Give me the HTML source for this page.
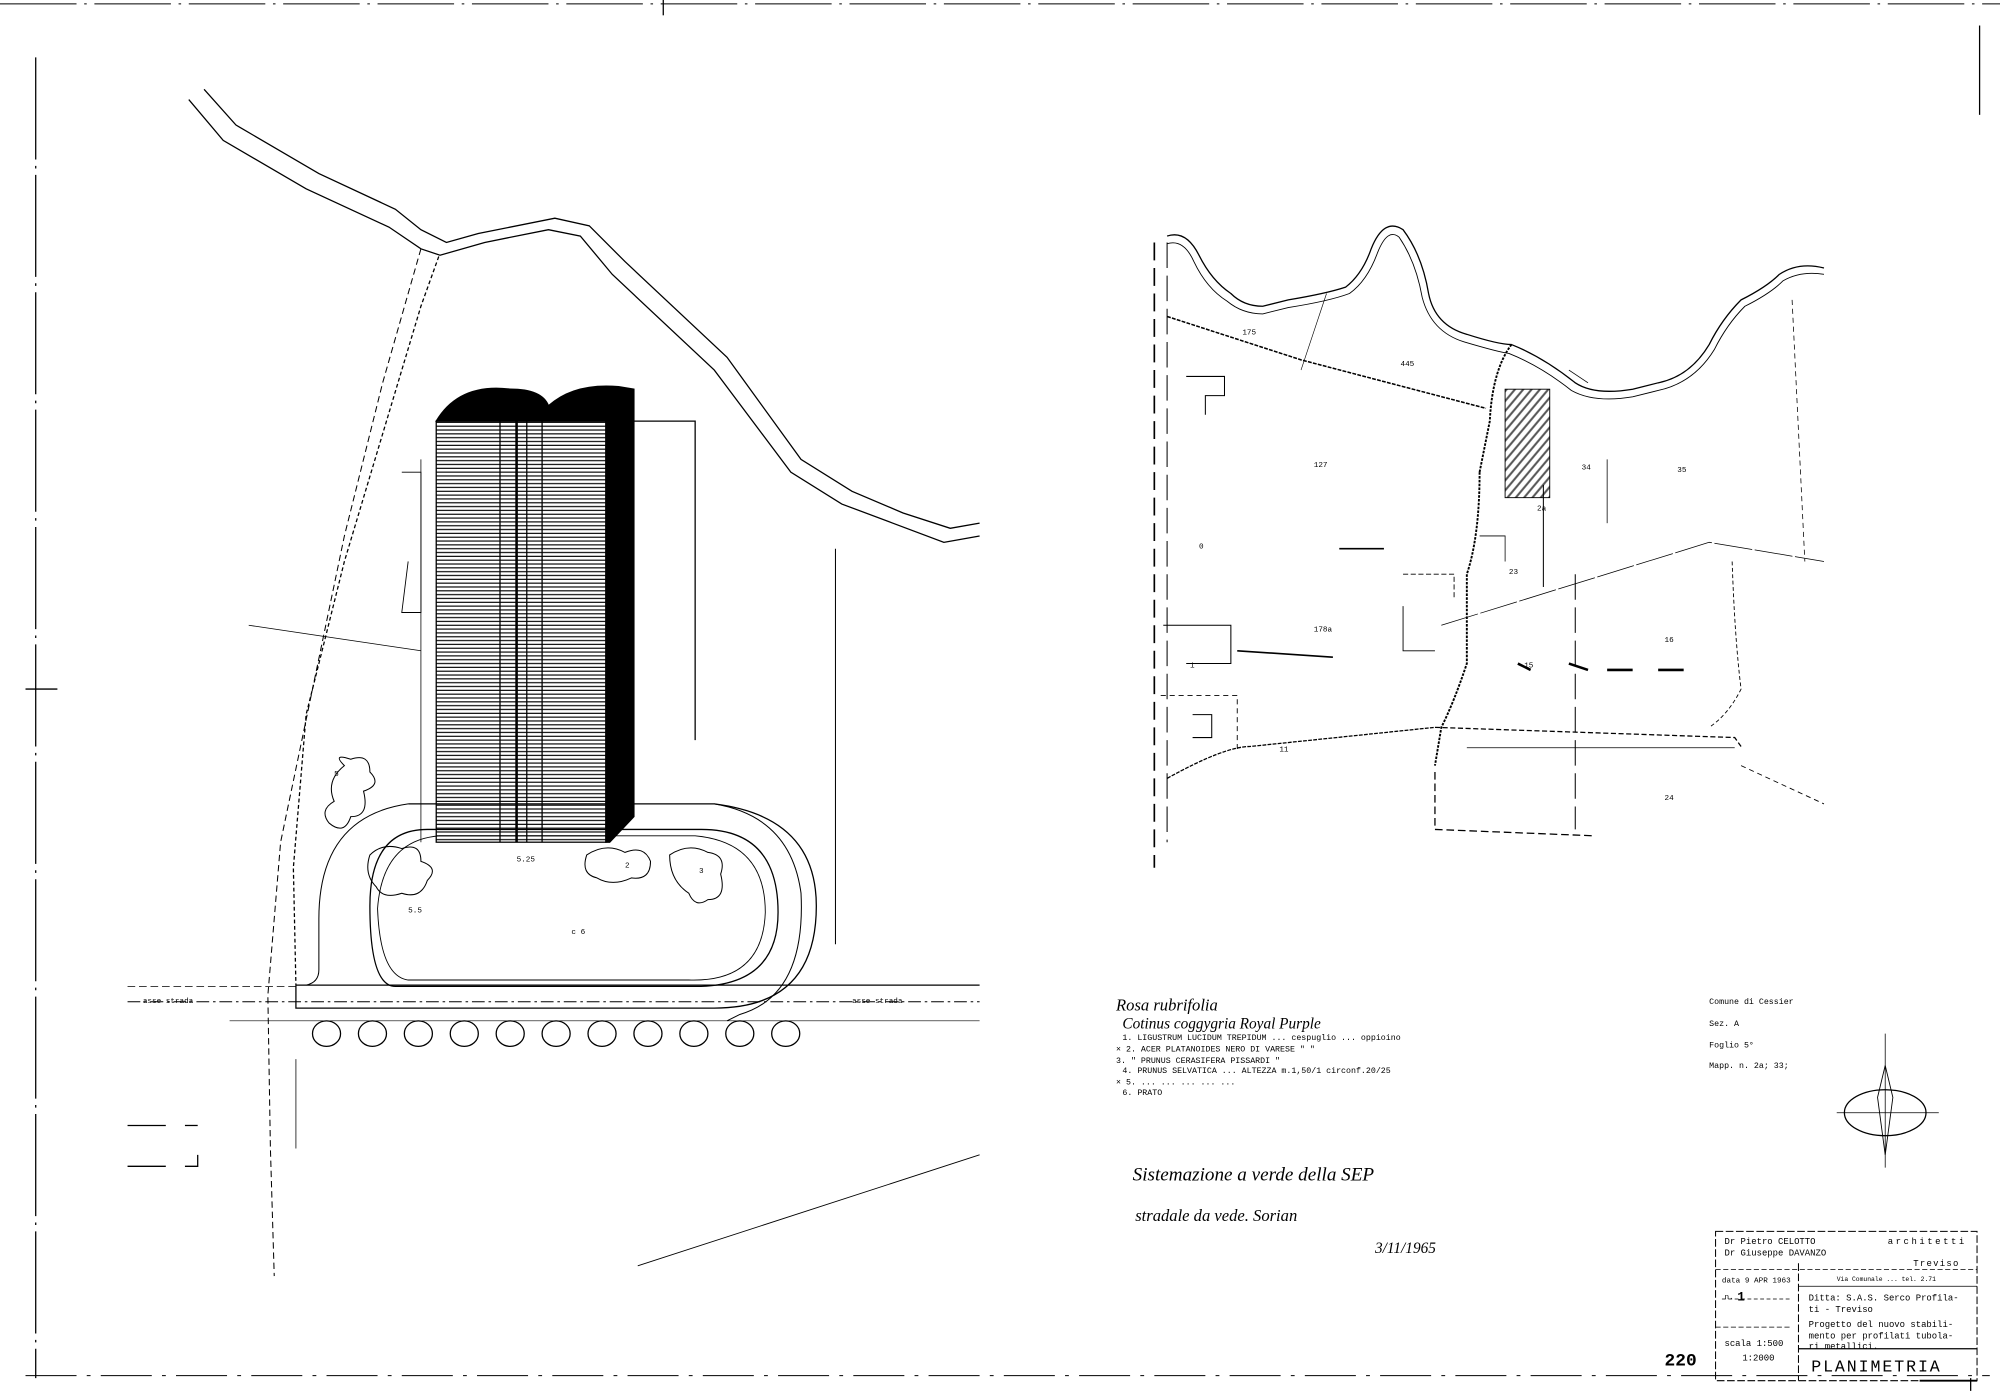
<!DOCTYPE html>
<html><head><meta charset="utf-8"><style>
html,body{margin:0;padding:0;background:#fff;}
svg{display:block;}
text{font-family:"Liberation Mono",monospace;fill:#000;}
.h{font-family:"Liberation Serif",serif;font-style:italic;}
</style></head><body>
<svg width="2000" height="1396" viewBox="0 0 1568 1094" preserveAspectRatio="none" xmlns="http://www.w3.org/2000/svg">
<defs>
<pattern id="hl" width="4" height="3" patternUnits="userSpaceOnUse"><rect width="4" height="3" fill="#fff"/><line x1="0" y1="1" x2="4" y2="1" stroke="#000" stroke-width="0.9"/></pattern>
<pattern id="dg" width="5" height="5" patternUnits="userSpaceOnUse" patternTransform="rotate(-50)"><rect width="5" height="5" fill="#fff"/><line x1="0" y1="1" x2="5" y2="1" stroke="#555" stroke-width="1.6"/></pattern>
</defs>
<g fill="none" stroke="#000" stroke-width="1">
<!-- frame -->
<line x1="0" y1="3" x2="1568" y2="3" stroke-dasharray="60 6 2 6" stroke-width="0.8"/>
<line x1="28" y1="45" x2="28" y2="1080" stroke-dasharray="80 5 2 5"/>
<line x1="20" y1="1078" x2="1560" y2="1078" stroke-dasharray="40 8 3 8" stroke-width="0.8"/>
<line x1="1552" y1="20" x2="1552" y2="90"/>
<line x1="520" y1="0" x2="520" y2="12"/>
<line x1="20" y1="540" x2="45" y2="540"/>
<!-- road (left) -->
<path d="M148 78 L175 110 L240 148 L305 178 L330 195 L345 200 L380 190 L430 180 L455 185 L480 215 L560 290 L620 370 L660 395 L700 410 L740 425 L768 420"/>
<path d="M160 70 L185 98 L250 136 L310 164 L330 180 L350 190 L375 183 L435 171 L462 177 L490 205 L570 280 L628 360 L668 385 L708 402 L745 414 L768 410"/>
<path d="M344 201 L330 240 L300 340 L270 440 L240 560 L230 680 L232 772" stroke-dasharray="3 2"/>
<path d="M330 195 L300 300 L270 420 L245 540 L220 660 L210 780 L212 900 L215 1000" stroke-dasharray="5 3" stroke-width="0.8"/>
<line x1="195" y1="490" x2="330" y2="510" stroke-width="0.6"/>
<!-- site outline -->
<path d="M342 330 L545 330 L545 580"/>
<path d="M655 430 L655 740" stroke-width="0.8"/>
<path d="M315 370 L330 370 L330 480 L315 480 L320 440" stroke-width="0.7"/>
<line x1="330" y1="360" x2="330" y2="660" stroke-width="0.6"/>
<!-- building -->
<rect x="342" y="330" width="133" height="330" fill="url(#hl)" stroke="#000"/>
<path d="M342 330 Q360 300 400 305 Q425 305 430 318 Q450 300 485 303 L497 305 L497 640 L478 660 L475 660 L475 330 Z" fill="#000"/>
<line x1="405" y1="330" x2="405" y2="660" stroke-width="2"/>
<line x1="413" y1="330" x2="413" y2="660"/>
<line x1="392" y1="330" x2="392" y2="660"/>
<line x1="425" y1="330" x2="425" y2="660"/>
<!-- track -->
<path d="M320 630 L560 630 Q640 640 640 710 Q640 790 560 790 L232 790 L232 772" />
<path d="M335 650 L550 650 Q610 650 610 715 Q610 773 545 773 L310 773 Q290 773 290 710 Q290 650 335 650 Z"/>
<path d="M345 655 L545 655 Q600 660 600 715 Q598 770 540 768 L320 768 Q298 765 296 712 Q300 658 345 655 Z" stroke-width="0.7"/>
<path d="M320 630 Q250 640 250 720 L250 760 Q250 770 240 772" stroke-width="0.8"/>
<path d="M560 630 Q620 640 628 700 Q632 780 580 795 L570 800" stroke-width="0.8"/>
<!-- shrubs -->
<path d="M270 600 Q260 590 275 595 Q290 590 290 605 Q300 615 285 620 Q290 640 275 640 Q270 655 258 645 Q250 635 262 628 Q255 612 270 600Z" stroke-width="0.8"/>
<path d="M290 670 Q300 660 315 665 Q330 660 330 675 Q345 680 335 690 Q330 705 315 700 Q300 705 295 695 Q285 685 290 670Z" stroke-width="0.8"/>
<path d="M460 670 Q475 660 490 668 Q505 662 510 675 Q510 690 495 688 Q480 695 468 688 Q455 685 460 670Z" stroke-width="0.8"/>
<path d="M525 670 Q540 660 555 668 Q570 670 565 685 Q570 705 555 705 Q545 712 540 700 Q525 690 525 670Z" stroke-width="0.8"/>
<!-- road axis -->
<line x1="100" y1="773" x2="232" y2="773" stroke-width="0.6" stroke-dasharray="6 3"/>
<line x1="232" y1="772" x2="768" y2="772"/>
<line x1="100" y1="785" x2="768" y2="785" stroke-dasharray="10 3 2 3" stroke-width="0.8"/>
<line x1="180" y1="800" x2="768" y2="800" stroke-width="0.5"/>
<g stroke-width="1">
<ellipse cx="256" cy="810" rx="11" ry="10"/><ellipse cx="292" cy="810" rx="11" ry="10"/><ellipse cx="328" cy="810" rx="11" ry="10"/><ellipse cx="364" cy="810" rx="11" ry="10"/><ellipse cx="400" cy="810" rx="11" ry="10"/><ellipse cx="436" cy="810" rx="11" ry="10"/><ellipse cx="472" cy="810" rx="11" ry="10"/><ellipse cx="508" cy="810" rx="11" ry="10"/><ellipse cx="544" cy="810" rx="11" ry="10"/><ellipse cx="580" cy="810" rx="11" ry="10"/><ellipse cx="616" cy="810" rx="11" ry="10"/>
</g>
<line x1="232" y1="830" x2="232" y2="900" stroke-width="0.6"/>
<line x1="100" y1="882" x2="130" y2="882"/><line x1="145" y1="882" x2="155" y2="882"/>
<line x1="100" y1="914" x2="130" y2="914"/><path d="M145 914 L155 914 L155 905"/>
<line x1="500" y1="992" x2="768" y2="905" stroke-width="0.7"/>
<!-- right map -->
<line x1="905" y1="190" x2="905" y2="680" stroke-dasharray="14 6" stroke-width="1.3"/>
<line x1="915" y1="190" x2="915" y2="660" stroke-dasharray="20 6" stroke-width="0.8"/>
<path d="M915 185 Q930 180 940 200 Q950 220 965 230 Q975 240 990 240 L1010 235 Q1040 230 1055 225 Q1068 215 1075 195 Q1085 170 1100 180 Q1115 200 1120 230 Q1125 255 1150 262 Q1175 270 1185 270 Q1210 280 1235 300 Q1250 310 1280 305 L1300 300 Q1325 295 1340 270 Q1350 250 1365 235 Q1385 225 1395 215 Q1410 205 1430 210"/>
<path d="M915 191 Q928 187 936 205 Q946 226 962 236 Q974 246 990 246 L1010 241 Q1042 236 1058 230 Q1072 220 1080 198 Q1088 178 1097 186 Q1110 205 1115 233 Q1122 260 1148 268 Q1175 276 1183 277 Q1208 287 1232 306 Q1250 316 1280 311 L1300 306 Q1328 300 1344 274 Q1354 254 1368 240 Q1388 230 1398 220 Q1412 212 1430 215" stroke-width="0.7"/>
<path d="M915 248 L1020 282 L1165 320" stroke-dasharray="3 1" stroke-width="1.2"/>
<path d="M1040 230 L1020 290" stroke-width="0.5"/>
<path d="M1185 270 Q1170 290 1168 330 L1160 370" stroke-dasharray="2 1" stroke-width="1.5"/>
<path d="M1160 370 Q1160 420 1150 450 L1150 520 Q1140 550 1130 570 L1125 600" stroke-dasharray="2 1" stroke-width="1.5"/>
<path d="M1230 290 L1245 300" stroke-width="0.6"/>
<rect x="1180" y="305" width="35" height="85" fill="url(#dg)" stroke="#000" stroke-width="0.7"/>
<line x1="1405" y1="235" x2="1415" y2="440" stroke-dasharray="4 3" stroke-width="0.6"/>
<path d="M1130 490 L1340 425 L1430 440" stroke-width="0.6" stroke-dasharray="30 2"/>
<path d="M1358 440 Q1360 500 1365 540 Q1355 560 1340 570" stroke-dasharray="3 2" stroke-width="0.7"/>
<path d="M1125 570 L1360 578 L1365 585" stroke-dasharray="4 2"/>
<path d="M1150 586 L1360 586" stroke-width="0.6"/>
<path d="M1125 605 L1125 650 L1250 655" stroke-dasharray="6 3"/>
<path d="M1365 600 L1430 630" stroke-dasharray="4 3" stroke-width="0.7"/>
<line x1="1210" y1="380" x2="1210" y2="460" stroke-width="0.8"/>
<line x1="1235" y1="450" x2="1235" y2="650" stroke-dasharray="20 6" stroke-width="0.8"/>
<line x1="1260" y1="360" x2="1260" y2="410" stroke-width="0.6"/>
<path d="M1160 420 L1180 420 L1180 440" stroke-width="0.6"/>
<path d="M1100 450 L1140 450 L1140 470" stroke-width="0.7" stroke-dasharray="4 2"/>
<path d="M1100 475 L1100 510 L1125 510" stroke-width="0.7"/>
<path d="M1190 520 L1200 525 M1230 520 L1245 525 M1260 525 L1280 525 M1300 525 L1320 525" stroke-width="2"/>
<path d="M930 295 L960 295 L960 310 L945 310 L945 325" stroke-width="0.8"/>
<path d="M912 490 L965 490 L965 520 L930 520" stroke-width="0.8"/>
<path d="M910 545 L970 545 L970 590" stroke-dasharray="4 3" stroke-width="0.7"/>
<path d="M935 560 L950 560 L950 578 L935 578" stroke-width="0.8"/>
<path d="M915 610 Q960 585 980 585 L1125 570" stroke-dasharray="3 1" stroke-width="1"/>
<path d="M970 510 L1045 515" stroke-width="1.3"/>
<line x1="1050" y1="430" x2="1085" y2="430" stroke-width="1.2"/>
<!-- compass -->
<ellipse cx="1478" cy="872" rx="32" ry="18"/>
<path d="M1478 810 L1478 915 M1440 872 L1520 872" stroke-width="0.6"/>
<path d="M1472 860 L1478 835 L1484 860 L1478 905 Z" stroke-width="0.7"/>
<!-- title block -->
<path d="M1345 965 L1550 965 L1550 1082 L1345 1082 Z" stroke-dasharray="6 2" stroke-width="0.8"/>
<line x1="1345" y1="995" x2="1550" y2="995" stroke-dasharray="4 2" stroke-width="0.6"/>
<line x1="1410" y1="1008" x2="1550" y2="1008" stroke-width="0.6"/>
<line x1="1410" y1="990" x2="1410" y2="1082" stroke-dasharray="6 2" stroke-width="0.8"/>
<line x1="1410" y1="1057" x2="1550" y2="1057" stroke-width="1"/>
<line x1="1345" y1="1040" x2="1405" y2="1040" stroke-dasharray="4 2" stroke-width="0.6"/>
<line x1="1350" y1="1018" x2="1405" y2="1018" stroke-dasharray="3 2" stroke-width="0.6"/>
<line x1="1505" y1="1082" x2="1550" y2="1082" stroke-width="1.5"/>
<line x1="1545" y1="1080" x2="1545" y2="1090"/>
</g>
<!-- labels -->
<g font-size="6">
<text x="112" y="786">asse strada</text><text x="668" y="786">asse strada</text>
<text x="262" y="608">5</text><text x="490" y="680">2</text><text x="548" y="684">3</text>
<text x="448" y="732">c 6</text><text x="320" y="715">5.5</text><text x="405" y="675">5.25</text>
<text x="974" y="262">175</text><text x="1098" y="287">445</text><text x="1030" y="366">127</text>
<text x="940" y="430">0</text><text x="1030" y="495">178a</text><text x="1240" y="368">34</text>
<text x="1315" y="370">35</text><text x="1205" y="400">2a</text><text x="1183" y="450">23</text>
<text x="1305" y="503">16</text><text x="1195" y="523">15</text><text x="1305" y="627">24</text>
<text x="933" y="523">1</text><text x="1003" y="589">11</text>
</g>
<text class="h" x="875" y="792" font-size="13">Rosa rubrifolia</text>
<text class="h" x="880" y="806" font-size="12">Cotinus coggygria Royal Purple</text>
<g font-size="6.5">
<text x="880" y="815">1. LIGUSTRUM LUCIDUM TREPIDUM ... cespuglio ... oppioino</text>
<text x="875" y="824">× 2. ACER PLATANOIDES NERO DI VARESE   "    "</text>
<text x="875" y="833">  3.   "  PRUNUS CERASIFERA PISSARDI    "</text>
<text x="880" y="841">4. PRUNUS SELVATICA ... ALTEZZA m.1,50/1 circonf.20/25</text>
<text x="875" y="850">× 5. ... ... ...        ... ...</text>
<text x="880" y="858">6. PRATO</text>
<text x="1340" y="787">Comune di Cessier</text>
<text x="1340" y="804">Sez. A</text>
<text x="1340" y="821">Foglio 5°</text>
<text x="1340" y="837">Mapp. n. 2a; 33;</text>
</g>
<text class="h" x="888" y="925" font-size="15">Sistemazione a verde della SEP</text>
<text class="h" x="890" y="957" font-size="13">stradale da vede. Sorian</text>
<text class="h" x="1078" y="982" font-size="12">3/11/1965</text>
<g font-size="7">
<text x="1352" y="975">Dr Pietro  CELOTTO</text><text x="1480" y="975" letter-spacing="2">architetti</text>
<text x="1352" y="984">Dr Giuseppe DAVANZO</text><text x="1500" y="992" letter-spacing="1">Treviso</text>
<text x="1350" y="1005" font-size="6">data 9 APR 1963</text><text x="1440" y="1004" font-size="5">Via Comunale ... tel. 2.71</text>
<text x="1418" y="1019">Ditta: S.A.S. Serco Profila-</text><text x="1418" y="1028">ti - Treviso</text>
<text x="1418" y="1040">Progetto del nuovo stabili-</text><text x="1418" y="1049">mento per profilati tubola-</text><text x="1418" y="1057">ri metallici.</text>
<text x="1352" y="1018" font-size="6">n. </text><text x="1362" y="1019" font-size="10" font-weight="bold">1</text>
<text x="1352" y="1055">scala 1:500</text><text x="1366" y="1066">1:2000</text>
</g>
<text x="1420" y="1075" font-family="Liberation Sans,sans-serif" font-size="13" letter-spacing="1.5">PLANIMETRIA</text>
<text x="1305" y="1070" font-size="14" font-family="Liberation Sans,sans-serif" font-weight="bold" fill="#333">220</text>
</svg>
</body></html>
